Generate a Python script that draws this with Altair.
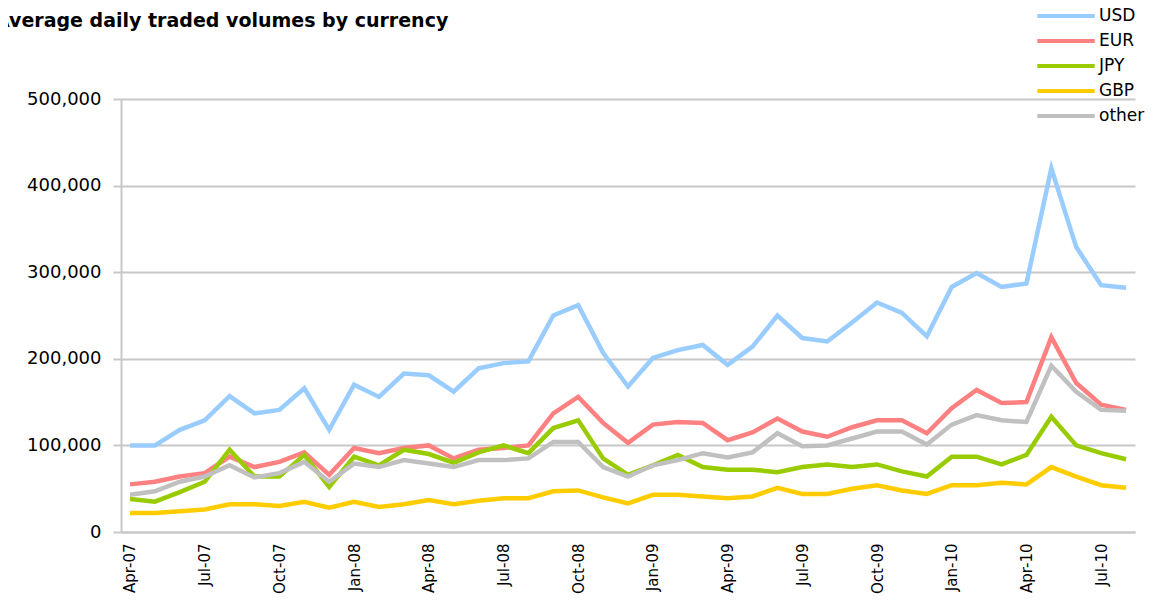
import altair as alt
import pandas as pd

months = [
    "Apr-07", "May-07", "Jun-07", "Jul-07", "Aug-07", "Sep-07", "Oct-07", "Nov-07", "Dec-07",
    "Jan-08", "Feb-08", "Mar-08", "Apr-08", "May-08", "Jun-08", "Jul-08", "Aug-08", "Sep-08",
    "Oct-08", "Nov-08", "Dec-08", "Jan-09", "Feb-09", "Mar-09", "Apr-09", "May-09", "Jun-09",
    "Jul-09", "Aug-09", "Sep-09", "Oct-09", "Nov-09", "Dec-09", "Jan-10", "Feb-10", "Mar-10",
    "Apr-10", "May-10", "Jun-10", "Jul-10", "Aug-10",
]
tick_labels = ["Apr-07", "Jul-07", "Oct-07", "Jan-08", "Apr-08", "Jul-08", "Oct-08",
               "Jan-09", "Apr-09", "Jul-09", "Oct-09", "Jan-10", "Apr-10", "Jul-10"]
y_ticks = [0, 100000, 200000, 300000, 400000, 500000]

# values in thousands
usd = [100, 100, 118, 129, 157, 137, 141, 166, 118, 170, 156, 183, 181,
       162, 189, 195, 197, 250, 262, 207, 168, 201, 210, 216, 193, 214, 250,
       224, 220, 242, 265, 253, 226, 283, 299, 283, 287, 420, 329, 285, 282]
eur = [55, 58, 64, 68, 87, 75, 81, 92, 66, 97, 91, 97, 100,
       85, 95, 97, 100, 137, 156, 126, 103, 124, 127, 126, 106, 115, 131,
       116, 110, 121, 129, 129, 114, 143, 164, 149, 150, 225, 172, 147, 141]
jpy = [38, 35, 46, 58, 95, 64, 64, 89, 52, 87, 77, 95, 90,
       80, 92, 100, 91, 120, 129, 85, 66, 77, 89, 75, 72, 72, 69,
       75, 78, 75, 78, 70, 64, 87, 87, 78, 89, 133, 100, 91, 84]
gbp = [22, 22, 24, 26, 32, 32, 30, 35, 28, 35, 29, 32, 37,
       32, 36, 39, 39, 47, 48, 40, 33, 43, 43, 41, 39, 41, 51,
       44, 44, 50, 54, 48, 44, 54, 54, 57, 55, 75, 64, 54, 51]
other = [43, 47, 58, 64, 77, 63, 68, 81, 58, 79, 75, 83, 79,
         75, 83, 83, 85, 104, 104, 75, 64, 77, 83, 91, 86, 92, 114,
         99, 100, 108, 116, 116, 101, 124, 135, 129, 127, 192, 162, 141, 140]

series_names = ["USD", "EUR", "JPY", "GBP", "other"]
series_colors = ["#99CCFF", "#FF8080", "#99CC00", "#FFCC00", "#C0C0C0"]
series_values = [usd, eur, jpy, gbp, other]

rows = []
for s_idx, (name, vals) in enumerate(zip(series_names, series_values)):
    for m, v in zip(months, vals):
        rows.append({"month": m, "currency": name, "value": v * 1000, "order": s_idx})
df = pd.DataFrame(rows)

FONT = "DejaVu Sans"

chart = (
    alt.Chart(df)
    .mark_line(strokeWidth=4.5, strokeJoin="miter")
    .encode(
        x=alt.X(
            "month:N",
            sort=months,
            scale=alt.Scale(type="point", padding=0.36),
            axis=alt.Axis(
                values=tick_labels,
                labelAngle=270,
                labelFontSize=15,
                labelFont=FONT,
                labelColor="#000000",
                labelPadding=11,
                ticks=False,
                domain=True,
                domainColor="#C8C8C8",
                domainWidth=2,
                grid=False,
                title=None,
            ),
        ),
        y=alt.Y(
            "value:Q",
            scale=alt.Scale(domain=[0, 500000], nice=False),
            axis=alt.Axis(
                values=y_ticks,
                format=",.0f",
                labelFontSize=18,
                labelFont=FONT,
                labelColor="#000000",
                labelPadding=12,
                tickSize=8,
                tickColor="#C8C8C8",
                tickWidth=2,
                domainColor="#C8C8C8",
                domainWidth=2,
                gridColor="#C8C8C8",
                gridWidth=2,
                title=None,
            ),
        ),
        color=alt.Color(
            "currency:N",
            sort=series_names,
            scale=alt.Scale(domain=series_names, range=series_colors),
            legend=alt.Legend(
                title=None,
                orient="none",
                legendX=914,
                legendY=-92,
                symbolType="stroke",
                symbolSize=3300,
                symbolStrokeWidth=4,
                clipHeight=18,
                labelFontSize=17,
                labelFont=FONT,
                labelColor="#000000",
                rowPadding=7,
                labelOffset=2,
            ),
        ),
        detail="order:O",
    )
    .properties(
        width=1014,
        height=433,
        autosize=alt.AutoSizeParams(type="none"),
        padding={"left": 113, "top": 91, "right": 10, "bottom": 66},
        title=alt.TitleParams(
            text="Average daily traded volumes by currency",
            anchor="start",
            frame="group",
            dx=-126,
            dy=28,
            font=FONT,
            fontSize=19,
            fontWeight="bold",
            color="#000000",
        ),
    )
    .configure_view(stroke=None)
)

chart.save("out.html", embed_options={"renderer": "svg", "actions": False})
